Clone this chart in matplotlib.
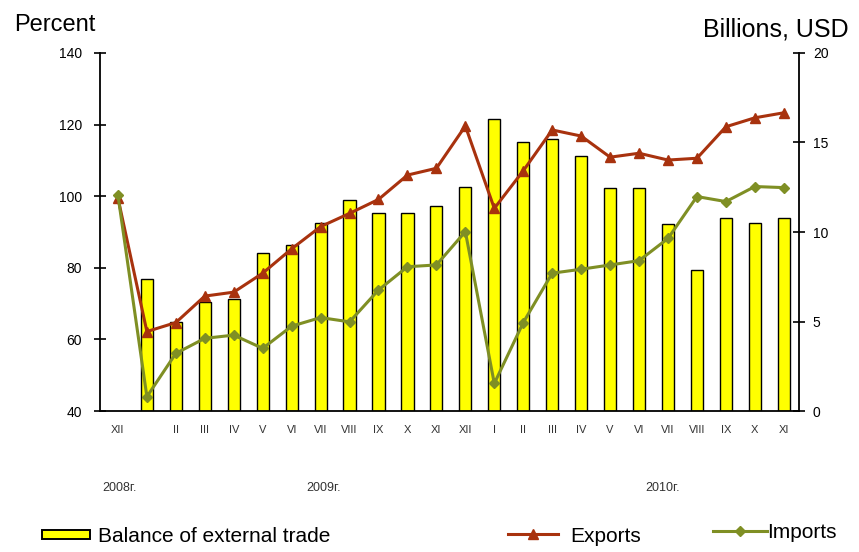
import matplotlib
matplotlib.use("Agg")
import matplotlib.pyplot as plt
from matplotlib.patches import Rectangle
from matplotlib.lines import Line2D

months = ["XII", "", "II", "III", "IV", "V", "VI", "VII", "VIII", "IX", "X", "XI", "XII",
          "I", "II", "III", "IV", "V", "VI", "VII", "VIII", "IX", "X", "XI"]
balance = [None, 7.4, 5.0, 6.1, 6.25, 8.8, 9.3, 10.5, 11.8, 11.05, 11.05, 11.45, 12.5,
           16.3, 15.0, 15.2, 14.25, 12.45, 12.45, 10.45, 7.9, 10.8, 10.5, 10.8]
exports = [99.5, 62.2, 64.7, 72.1, 73.2, 78.5, 85.3, 91.5, 95.2, 99.1, 105.9, 107.8, 119.6,
           96.6, 107.1, 118.5, 116.8, 110.9, 112.0, 110.1, 110.6, 119.4, 121.9, 123.3]
imports = [100.3, 44.0, 56.1, 60.3, 61.2, 57.5, 63.7, 66.1, 64.9, 73.8, 80.3, 80.8, 90.1,
           47.7, 64.7, 78.5, 79.6, 80.8, 82.0, 88.2, 99.9, 98.5, 102.7, 102.4]
years = ["2008г.", "2009г.", "2010г."]
year_pos = [0.05, 7.1, 18.8]

plt.rcParams['font.family'] = ['Liberation Sans', 'DejaVu Sans']

EXP_C = "#A8320E"
IMP_C = "#7F8F24"

fig = plt.figure(figsize=(8.59, 5.52), dpi=100)
ax = fig.add_axes([0.1164, 0.2554, 0.8136, 0.6486])
ax2 = ax.twinx()

x = list(range(len(months)))
bx = [i for i, v in enumerate(balance) if v is not None]
bv = [v for v in balance if v is not None]

ax2.bar(bx, bv, width=0.42, color="#FFFF00", edgecolor="black", linewidth=1.0, zorder=1)
ax2.set_ylim(0, 20)
ax2.set_yticks([0, 5, 10, 15, 20])

ax.set_zorder(ax2.get_zorder() + 1)
ax.patch.set_visible(False)
ax.plot(x, exports, color=EXP_C, lw=2.2, marker="^", ms=7, zorder=3)
ax.plot(x, imports, color=IMP_C, lw=2.2, marker="D", ms=5, zorder=3)
ax.set_ylim(40, 140)
ax.set_yticks([40, 60, 80, 100, 120, 140])
ax.set_xlim(-0.62, 23.52)
ax.set_xticks(x)
ax.set_xticklabels(months, fontsize=8, color="#333333")
ax.tick_params(axis="x", length=0, pad=10)

for a in (ax, ax2):
    a.spines['top'].set_visible(False)
    a.tick_params(axis="y", direction="inout", length=8, width=1.2, labelsize=10)
ax.spines['right'].set_visible(False)
ax2.spines['left'].set_visible(False)
ax2.spines['bottom'].set_visible(False)
ax.spines['left'].set_linewidth(1.3)
ax.spines['bottom'].set_linewidth(1.3)
ax2.spines['right'].set_linewidth(1.3)
ax.tick_params(axis="y", pad=9)
ax2.tick_params(axis="y", pad=6)

for y, p in zip(years, year_pos):
    ax.text(p, -0.215, y, transform=ax.get_xaxis_transform(), fontsize=9,
            color="#333333", ha="center", va="center")

fig.text(0.017, 1 - 25 / 552, "Percent", fontsize=17, ha="left", va="center")
fig.text(0.988, 1 - 30 / 552, "Billions, USD", fontsize=18, ha="right", va="center")

# legend
W, H = 859.0, 552.0
fig.patches.append(Rectangle((42 / W, 1 - 539 / H), 48 / W, 9 / H, transform=fig.transFigure,
                             facecolor="#FFFF00", edgecolor="black", lw=1.4))
fig.text(98 / W, 1 - 537 / H, "Balance of external trade", fontsize=15, va="center")
fig.lines.append(Line2D([508 / W, 558 / W], [1 - 534 / H] * 2, transform=fig.transFigure,
                        color=EXP_C, lw=2.2))
fig.lines.append(Line2D([533 / W], [1 - 534 / H], transform=fig.transFigure,
                        color=EXP_C, marker="^", ms=7, lw=0))
fig.text(570 / W, 1 - 537 / H, "Exports", fontsize=15, va="center")
fig.lines.append(Line2D([713 / W, 767 / W], [1 - 531 / H] * 2, transform=fig.transFigure,
                        color=IMP_C, lw=2.2))
fig.lines.append(Line2D([740 / W], [1 - 531 / H], transform=fig.transFigure,
                        color=IMP_C, marker="D", ms=5, lw=0))
fig.text(767 / W, 1 - 533 / H, "Imports", fontsize=15, va="center")

fig.savefig("out.png", dpi=100)
